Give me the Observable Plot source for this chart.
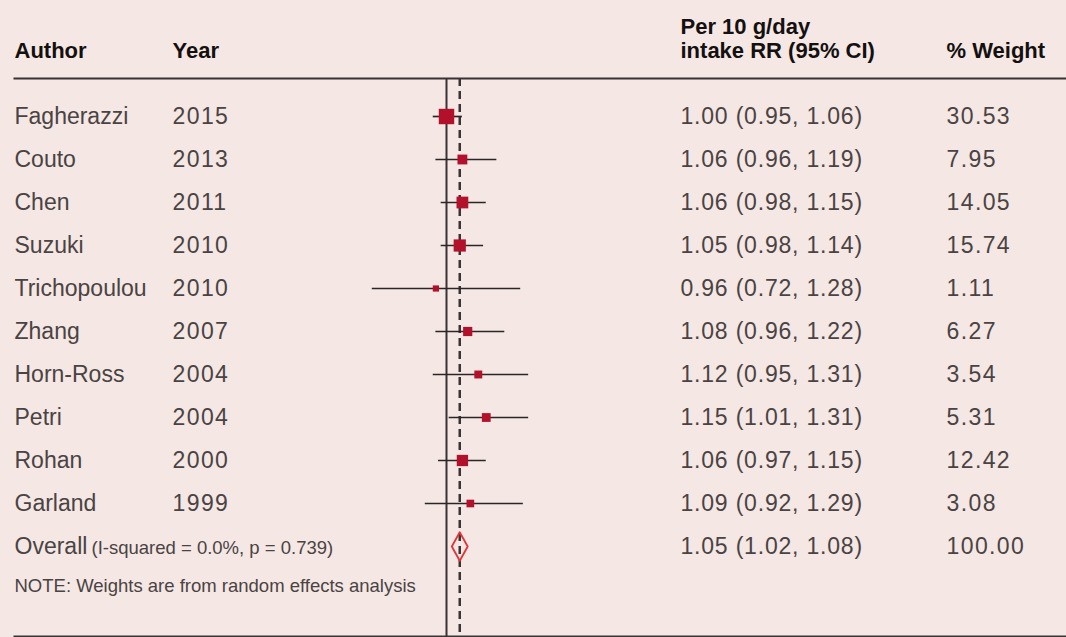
<!DOCTYPE html>
<html>
<head>
<meta charset="utf-8">
<script src="https://cdn.jsdelivr.net/npm/d3@7"></script>
<script src="https://cdn.jsdelivr.net/npm/@observablehq/plot@0.6"></script>
<style>
  html, body { margin: 0; padding: 0; background: #f4e7e4; }
  #chart svg { display: block; }
</style>
</head>
<body>
<div id="chart"></div>
<script>
// Studies: per 10 g/day intake relative risk with 95% CI and random-effects weight
const authors = ["Fagherazzi", "Couto", "Chen", "Suzuki", "Trichopoulou", "Zhang", "Horn-Ross", "Petri", "Rohan", "Garland"];
const years   = [2015, 2013, 2011, 2010, 2010, 2007, 2004, 2004, 2000, 1999];
const rr      = [1.00, 1.06, 1.06, 1.05, 0.96, 1.08, 1.12, 1.15, 1.06, 1.09];
const lower   = [0.95, 0.96, 0.98, 0.98, 0.72, 0.96, 0.95, 1.01, 0.97, 0.92];
const upper   = [1.06, 1.19, 1.15, 1.14, 1.28, 1.22, 1.31, 1.31, 1.15, 1.29];
const weights = [30.53, 7.95, 14.05, 15.74, 1.11, 6.27, 3.54, 5.31, 12.42, 3.08];

// Pooled estimate
const overallRR = 1.05, overallLower = 1.02, overallUpper = 1.08, overallWeight = 100.00;
const iSquared = 0.0, pHet = 0.739;

const headers = { author: "Author", year: "Year", rr: "Per 10 g/day\nintake RR (95% CI)", weight: "% Weight" };
const note = "NOTE: Weights are from random effects analysis";

const fmt = (v) => v.toFixed(2);
const studies = authors.map((a, i) => ({
  row: i, author: a, year: String(years[i]),
  rr: rr[i], lo: lower[i], hi: upper[i], w: weights[i],
  ci: `${fmt(rr[i])} (${fmt(lower[i])}, ${fmt(upper[i])})`,
  wt: fmt(weights[i])
}));
const overallRow = authors.length;
const overall = [{
  row: overallRow, rr: overallRR, lo: overallLower, hi: overallUpper,
  ci: `${fmt(overallRR)} (${fmt(overallLower)}, ${fmt(overallUpper)})`,
  wt: fmt(overallWeight),
  het: `(I-squared = ${iSquared.toFixed(1)}%, p = ${pHet.toFixed(3)})`
}];

// Diamond outline for the pooled estimate (half-height in row units)
const dh = 0.33;
const diamond = [
  {x: overallLower, y: overallRow},
  {x: overallRR, y: overallRow - dh},
  {x: overallUpper, y: overallRow},
  {x: overallRR, y: overallRow + dh}
];

const ink = "#3a3333";
const textInk = "#4a4343";
const headInk = "#141010";
const font = "'Liberation Sans', Arial, sans-serif";

const chart = Plot.plot({
  width: 1066,
  height: 637,
  marginLeft: 14,
  marginRight: 0,
  marginTop: 78,
  marginBottom: 1,
  style: { background: "#f4e7e4", fontFamily: font, color: textInk, overflow: "visible" },
  x: { domain: [0.7, 1.35], range: [366.5, 538.75], axis: null },
  y: { domain: [0, overallRow], range: [116, 546], axis: null },
  r: { type: "sqrt", domain: [1.11, 30.53], range: [3.5, 8.7] },
  marks: [
    // header and bottom rules
    Plot.frame({ anchor: "top", stroke: ink, strokeWidth: 2 }),
    Plot.frame({ anchor: "bottom", stroke: ink, strokeWidth: 2 }),
    // null line and pooled-estimate line
    Plot.ruleX([1], { stroke: ink, strokeWidth: 2 }),
    Plot.ruleX([overallRR], { stroke: ink, strokeWidth: 2.5, strokeDasharray: "8,5" }),
    // confidence intervals
    Plot.ruleY(studies, { y: "row", x1: "lo", x2: "hi", stroke: "#2b2626", strokeWidth: 1.7 }),
    // point estimates, sized by weight
    Plot.dot(studies, { x: "rr", y: "row", r: "w", symbol: "square", fill: "#b3102b", stroke: "none" }),
    // pooled diamond
    Plot.line(diamond, { x: "x", y: "y", curve: "linear-closed", stroke: "#e0353a", strokeWidth: 1.8, fill: "none" }),

    // column headers
    Plot.text([headers.author], { frameAnchor: "top-left", dx: 0, dy: -21, lineAnchor: "bottom", textAnchor: "start", fontSize: 22, fontWeight: "bold", fill: headInk }),
    Plot.text([headers.year], { frameAnchor: "top-left", dx: 158, dy: -21, lineAnchor: "bottom", textAnchor: "start", fontSize: 22, fontWeight: "bold", fill: headInk }),
    Plot.text([headers.rr], { frameAnchor: "top-left", dx: 666, dy: -21, lineAnchor: "bottom", textAnchor: "start", fontSize: 22, lineHeight: 1.09, fontWeight: "bold", fill: headInk }),
    Plot.text([headers.weight], { frameAnchor: "top-left", dx: 932, dy: -21, lineAnchor: "bottom", textAnchor: "start", fontSize: 22, fontWeight: "bold", fill: headInk }),

    // study rows
    Plot.text(studies, { y: "row", text: "author", frameAnchor: "left", dx: 0, textAnchor: "start", fontSize: 23, fill: textInk }),
    Plot.text(studies, { y: "row", text: "year", frameAnchor: "left", dx: 158, textAnchor: "start", fontSize: 23, fill: textInk }),
    Plot.text(studies, { y: "row", text: "ci", frameAnchor: "left", dx: 666, textAnchor: "start", fontSize: 23, fill: textInk }),
    Plot.text(studies, { y: "row", text: "wt", frameAnchor: "left", dx: 932, textAnchor: "start", fontSize: 23, fill: textInk }),

    // overall row
    Plot.text(overall, { y: "row", text: () => "Overall", frameAnchor: "left", dx: 0, textAnchor: "start", fontSize: 23, fill: textInk }),
    Plot.text(overall, { y: "row", text: "het", frameAnchor: "left", dx: 77, dy: 1.5, textAnchor: "start", fontSize: 18.5, fill: textInk }),
    Plot.text(overall, { y: "row", text: "ci", frameAnchor: "left", dx: 666, textAnchor: "start", fontSize: 23, fill: textInk }),
    Plot.text(overall, { y: "row", text: "wt", frameAnchor: "left", dx: 932, textAnchor: "start", fontSize: 23, fill: textInk }),

    // footnote
    Plot.text([note], { frameAnchor: "bottom-left", dx: 0, dy: -45, lineAnchor: "bottom", textAnchor: "start", fontSize: 18.5, fill: textInk })
  ]
});

// Numeric cells get slightly wider figure spacing
d3.select(chart).selectAll("text")
  .filter(function () { return /^\d/.test(this.textContent); })
  .style("letter-spacing", function () { return this.textContent.includes("(") ? "0.8px" : "1.4px"; });

document.getElementById("chart").appendChild(chart);
</script>
</body>
</html>
